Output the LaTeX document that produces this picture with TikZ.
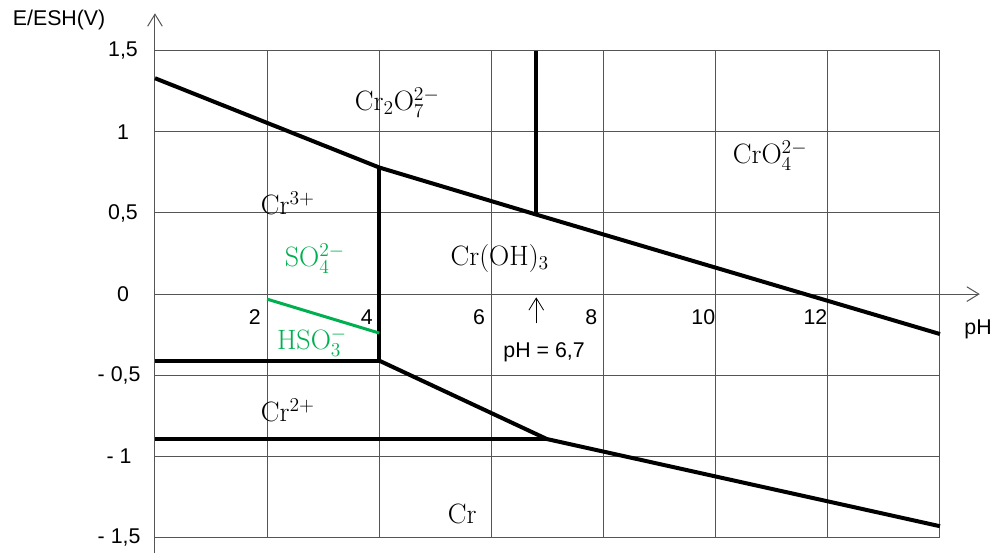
\RequirePackage{fix-cm}
\documentclass[tikz,border=0pt]{standalone}
\usepackage{fontspec}
\setsansfont{Liberation Sans}
\usetikzlibrary{arrows.meta}
\definecolor{Grid}{HTML}{555555}
\definecolor{Sulfur}{HTML}{00B050}

\begin{document}
\begin{tikzpicture}[x=42.05pt,y=121.73pt,>={Straight Barb[length=9pt,width=11pt]},
    axislbl/.style={font=\sffamily\fontsize{16}{19}\selectfont},
    species/.style={font=\fontsize{21}{25}\selectfont},
    frontier/.style={line width=3pt,line join=round}]
    \useasboundingbox (-2.764,-1.596) rectangle (14.964,1.812);
    % grid
    \foreach \x in {2,4,...,14}{\draw[Grid,line width=0.75pt] (\x,-1.5)--(\x,1.5);}
    \foreach \y in {-1.5,-1,-0.5,0,0.5,1,1.5}{\draw[Grid,line width=0.75pt] (0,\y)--(14,\y);}
    % axes
    \draw[Grid,line width=0.75pt,->] (0,-1.596)--(0,1.73);
    \draw[Grid,line width=0.75pt,->] (0,0)--(14.71,0);
    \node[axislbl] (eaxis) at (-1.71,1.688) {E/ESH(V)};
    \node[axislbl] (phaxis) at (14.68,-0.216) {pH};
    \foreach \y/\t in {1.5/{1,5},1/1,0.5/{0,5},0/0}{\node[axislbl] (e\t) at (-0.57,\y) {\t};}
    \foreach \y/\t in {-0.5/{- 0,5},-1/{- 1},-1.5/{- 1,5}}{\node[axislbl] at (-0.64,\y) {\t};}
    \foreach \x in {2,4,...,12}{\node[axislbl] (ph\x) at (\x-0.22,-0.14) {\x};}
    % frontiers
    \draw[frontier] (0,1.33)--(4,0.78)--(6.8,0.49)--(14,-0.246);
    \draw[frontier] (6.8,1.5)--(6.8,0.49);
    \draw[frontier] (0,-0.41)--(4,-0.41)--(4,0.78);
    \draw[frontier] (4,-0.41)--(6.99,-0.893)--(14,-1.43);
    \draw[frontier] (0,-0.893)--(6.99,-0.893);
    \draw[Sulfur,line width=2.25pt] (2,-0.031)--(4,-0.24);
    % pH = 6,7
    \node[axislbl] (ph67) at (6.94,-0.357) {pH = 6,7};
    \draw[->,line width=0.6pt] (6.8,-0.18)--(6.8,-0.02);
    % species
    \node[species] (dichromate) at (4.32,1.18) {$\mathrm{Cr_2O_7^{2-}}$};
    \node[species] (chromate) at (10.97,0.856) {$\mathrm{CrO_4^{2-}}$};
    \node[species] (cr3) at (2.37,0.56) {$\mathrm{Cr^{3+}}$};
    \node[species,Sulfur] (sulfate) at (2.85,0.22) {$\mathrm{SO_4^{2-}}$};
    \node[species] (hydroxide) at (6.15,0.22) {$\mathrm{Cr(OH)_3}$};
    \node[species,Sulfur] (bisulfite) at (2.80,-0.30) {$\mathrm{HSO_3^{-}}$};
    \node[species] (cr2) at (2.37,-0.715) {$\mathrm{Cr^{2+}}$};
    \node[species] (metal) at (5.48,-1.355) {$\mathrm{Cr}$};
\end{tikzpicture}
\end{document}
